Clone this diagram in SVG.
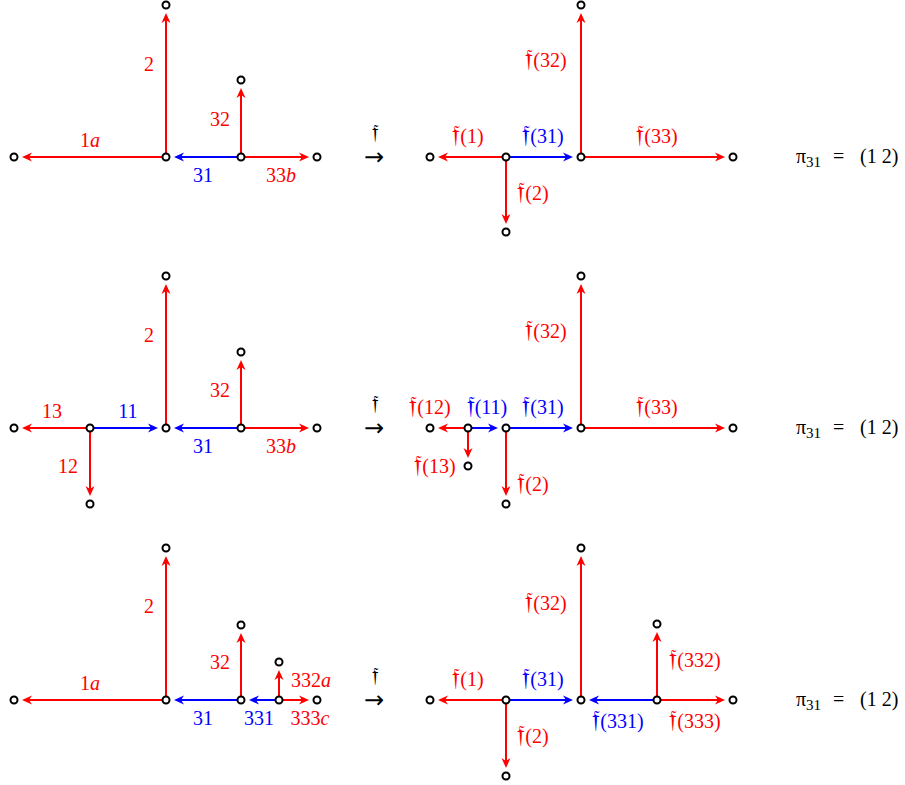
<svg xmlns="http://www.w3.org/2000/svg" width="905" height="785" viewBox="0 0 905 785">
<defs>
<marker id="ar" viewBox="-11 -5 12 10" markerWidth="12" markerHeight="10" refX="-3" refY="0" orient="auto" markerUnits="userSpaceOnUse"><path d="M0,0 L-10,-4.5 L-7,0 L-10,4.5 Z" fill="#ff0000"/></marker>
<marker id="ab" viewBox="-11 -5 12 10" markerWidth="12" markerHeight="10" refX="-3" refY="0" orient="auto" markerUnits="userSpaceOnUse"><path d="M0,0 L-10,-4.5 L-7,0 L-10,4.5 Z" fill="#0000ff"/></marker>
</defs>
<style>
.r{stroke:#ff0000;stroke-width:2;fill:none;marker-end:url(#ar)}
.b{stroke:#0000ff;stroke-width:2;fill:none;marker-end:url(#ab)}
.n{fill:#fff;stroke:#000;stroke-width:2}
text{font-family:"Liberation Serif","DejaVu Serif",serif;font-size:20px}
.tr{fill:#ff0000}.tb{fill:#0000ff}.tk{fill:#000}
.m{text-anchor:middle}
.it{font-style:italic}
.f{font-size:26px}
.fa{font-size:22px}
.ar{font-family:"DejaVu Sans",sans-serif;font-size:24px}
.s{font-size:15px}
</style>
<rect width="905" height="785" fill="#fff"/>
<g id="connectors">
<line class="r" x1="166" y1="157" x2="25" y2="157"/>
<line class="r" x1="166" y1="157" x2="166" y2="16"/>
<line class="b" x1="241" y1="157" x2="177" y2="157"/>
<line class="r" x1="241" y1="157" x2="241" y2="91"/>
<line class="r" x1="241" y1="157" x2="306" y2="157"/>
<line class="r" x1="506" y1="157" x2="441" y2="157"/>
<line class="b" x1="506" y1="157" x2="570" y2="157"/>
<line class="r" x1="506" y1="157" x2="506" y2="221"/>
<line class="r" x1="581" y1="157" x2="581" y2="16"/>
<line class="r" x1="581" y1="157" x2="722" y2="157"/>

<line class="r" x1="90" y1="428" x2="25" y2="428"/>
<line class="b" x1="90" y1="428" x2="155" y2="428"/>
<line class="r" x1="90" y1="428" x2="90" y2="493"/>
<line class="r" x1="166" y1="428" x2="166" y2="287"/>
<line class="b" x1="241" y1="428" x2="177" y2="428"/>
<line class="r" x1="241" y1="428" x2="241" y2="363"/>
<line class="r" x1="241" y1="428" x2="306" y2="428"/>
<line class="r" x1="468" y1="428" x2="441" y2="428"/>
<line class="b" x1="468" y1="428" x2="495" y2="428"/>
<line class="r" x1="468" y1="428" x2="468" y2="455"/>
<line class="b" x1="506" y1="428" x2="570" y2="428"/>
<line class="r" x1="506" y1="428" x2="506" y2="493"/>
<line class="r" x1="581" y1="428" x2="581" y2="287"/>
<line class="r" x1="581" y1="428" x2="722" y2="428"/>

<line class="r" x1="166" y1="700" x2="25" y2="700"/>
<line class="r" x1="166" y1="700" x2="166" y2="559"/>
<line class="b" x1="241" y1="700" x2="177" y2="700"/>
<line class="r" x1="241" y1="700" x2="241" y2="636"/>
<line class="b" x1="279" y1="700" x2="252" y2="700"/>
<line class="r" x1="279" y1="700" x2="279" y2="673"/>
<line class="r" x1="279" y1="700" x2="306" y2="700"/>
<line class="r" x1="506" y1="700" x2="441" y2="700"/>
<line class="b" x1="506" y1="700" x2="570" y2="700"/>
<line class="r" x1="506" y1="700" x2="506" y2="765"/>
<line class="r" x1="581" y1="700" x2="581" y2="559"/>
<line class="b" x1="657" y1="700" x2="592" y2="700"/>
<line class="r" x1="657" y1="700" x2="657" y2="635"/>
<line class="r" x1="657" y1="700" x2="722" y2="700"/>
</g>
<g id="nodes">
<g id="r1l"><circle class="n" cx="14" cy="157" r="3.5"/><circle class="n" cx="166" cy="157" r="3.5"/><circle class="n" cx="166" cy="5" r="3.5"/><circle class="n" cx="241" cy="157" r="3.5"/><circle class="n" cx="241" cy="80" r="3.5"/><circle class="n" cx="317" cy="157" r="3.5"/></g>
<g id="r1r"><circle class="n" cx="430" cy="157" r="3.5"/><circle class="n" cx="506" cy="157" r="3.5"/><circle class="n" cx="506" cy="232" r="3.5"/><circle class="n" cx="581" cy="157" r="3.5"/><circle class="n" cx="581" cy="5" r="3.5"/><circle class="n" cx="733" cy="157" r="3.5"/></g>
<g id="r2l"><circle class="n" cx="14" cy="428" r="3.5"/><circle class="n" cx="90" cy="428" r="3.5"/><circle class="n" cx="90" cy="504" r="3.5"/><circle class="n" cx="166" cy="428" r="3.5"/><circle class="n" cx="166" cy="276" r="3.5"/><circle class="n" cx="241" cy="428" r="3.5"/><circle class="n" cx="241" cy="352" r="3.5"/><circle class="n" cx="317" cy="428" r="3.5"/></g>
<g id="r2r"><circle class="n" cx="430" cy="428" r="3.5"/><circle class="n" cx="468" cy="428" r="3.5"/><circle class="n" cx="468" cy="466" r="3.5"/><circle class="n" cx="506" cy="428" r="3.5"/><circle class="n" cx="506" cy="504" r="3.5"/><circle class="n" cx="581" cy="428" r="3.5"/><circle class="n" cx="581" cy="276" r="3.5"/><circle class="n" cx="733" cy="428" r="3.5"/></g>
<g id="r3l"><circle class="n" cx="14" cy="700" r="3.5"/><circle class="n" cx="166" cy="700" r="3.5"/><circle class="n" cx="166" cy="548" r="3.5"/><circle class="n" cx="241" cy="700" r="3.5"/><circle class="n" cx="241" cy="625" r="3.5"/><circle class="n" cx="279" cy="700" r="3.5"/><circle class="n" cx="279" cy="662" r="3.5"/><circle class="n" cx="317" cy="700" r="3.5"/></g>
<g id="r3r"><circle class="n" cx="430" cy="700" r="3.5"/><circle class="n" cx="506" cy="700" r="3.5"/><circle class="n" cx="506" cy="776" r="3.5"/><circle class="n" cx="581" cy="700" r="3.5"/><circle class="n" cx="581" cy="548" r="3.5"/><circle class="n" cx="657" cy="700" r="3.5"/><circle class="n" cx="657" cy="624" r="3.5"/><circle class="n" cx="733" cy="700" r="3.5"/></g>
</g>
<g id="labels">
<text class="tr m" x="90" y="147">1<tspan class="it">a</tspan></text>
<text class="tr m" x="149" y="71">2</text>
<text class="tr m" x="220" y="126">32</text>
<text class="tb m" x="203" y="182">31</text>
<text class="tr m" x="281" y="182">33<tspan class="it">b</tspan></text>
<text class="tk m fa" x="375" y="139">𝔣</text>
<text class="tk m ar" x="374" y="165">→</text>
<text class="tr m" x="468" y="143"><tspan class="f">𝔣</tspan>(1)</text>
<text class="tb m" x="543" y="143"><tspan class="f">𝔣</tspan>(31)</text>
<text class="tr m" x="657" y="143"><tspan class="f">𝔣</tspan>(33)</text>
<text class="tr m" x="546" y="67"><tspan class="f">𝔣</tspan>(32)</text>
<text class="tr m" x="533" y="200"><tspan class="f">𝔣</tspan>(2)</text>
<text class="tk" x="796" y="163">π<tspan class="s" dy="4">31</tspan><tspan x="833" dy="-4">=</tspan><tspan x="860">(1 2)</tspan></text>

<text class="tr m" x="52" y="418">13</text>
<text class="tb m" x="128" y="418">11</text>
<text class="tr m" x="68" y="473">12</text>
<text class="tr m" x="149" y="342">2</text>
<text class="tr m" x="220" y="397">32</text>
<text class="tb m" x="203" y="453">31</text>
<text class="tr m" x="281" y="453">33<tspan class="it">b</tspan></text>
<text class="tk m fa" x="375" y="410">𝔣</text>
<text class="tk m ar" x="374" y="436">→</text>
<text class="tr m" x="430" y="414"><tspan class="f">𝔣</tspan>(12)</text>
<text class="tb m" x="487" y="414"><tspan class="f">𝔣</tspan>(11)</text>
<text class="tb m" x="543" y="414"><tspan class="f">𝔣</tspan>(31)</text>
<text class="tr m" x="657" y="414"><tspan class="f">𝔣</tspan>(33)</text>
<text class="tr m" x="546" y="338"><tspan class="f">𝔣</tspan>(32)</text>
<text class="tr m" x="435" y="473"><tspan class="f">𝔣</tspan>(13)</text>
<text class="tr m" x="533" y="491"><tspan class="f">𝔣</tspan>(2)</text>
<text class="tk" x="796" y="434">π<tspan class="s" dy="4">31</tspan><tspan x="833" dy="-4">=</tspan><tspan x="860">(1 2)</tspan></text>

<text class="tr m" x="90" y="690">1<tspan class="it">a</tspan></text>
<text class="tr m" x="149" y="613">2</text>
<text class="tr m" x="220" y="669">32</text>
<text class="tr m" x="311" y="687">332<tspan class="it">a</tspan></text>
<text class="tb m" x="203" y="725">31</text>
<text class="tb m" x="259" y="725">331</text>
<text class="tr m" x="310" y="725">333<tspan class="it">c</tspan></text>
<text class="tk m fa" x="375" y="682">𝔣</text>
<text class="tk m ar" x="374" y="708">→</text>
<text class="tr m" x="468" y="686"><tspan class="f">𝔣</tspan>(1)</text>
<text class="tb m" x="543" y="686"><tspan class="f">𝔣</tspan>(31)</text>
<text class="tr m" x="546" y="610"><tspan class="f">𝔣</tspan>(32)</text>
<text class="tr m" x="695" y="667"><tspan class="f">𝔣</tspan>(332)</text>
<text class="tb m" x="618" y="728"><tspan class="f">𝔣</tspan>(331)</text>
<text class="tr m" x="695" y="728"><tspan class="f">𝔣</tspan>(333)</text>
<text class="tr m" x="533" y="743"><tspan class="f">𝔣</tspan>(2)</text>
<text class="tk" x="796" y="706">π<tspan class="s" dy="4">31</tspan><tspan x="833" dy="-4">=</tspan><tspan x="860">(1 2)</tspan></text>
</g>
</svg>
